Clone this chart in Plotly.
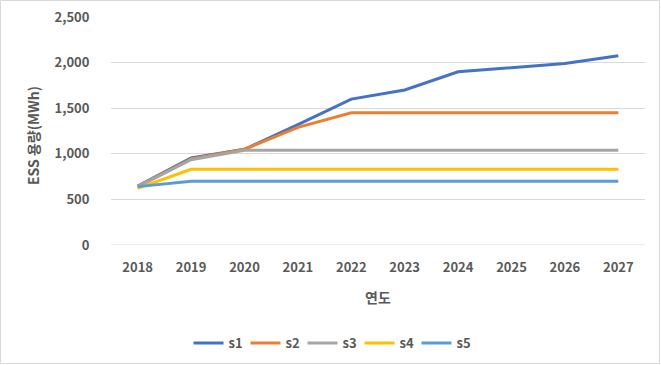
import plotly.graph_objects as go

years = ["2018", "2019", "2020", "2021", "2022", "2023", "2024", "2025", "2026", "2027"]
s1 = [645, 955, 1050, 1320, 1600, 1700, 1900, 1945, 1990, 2075]
s2 = [640, 945, 1050, 1290, 1450, 1450, 1450, 1450, 1450, 1450]
s3 = [640, 935, 1040, 1040, 1040, 1040, 1040, 1040, 1040, 1040]
s4 = [620, 830, 830, 830, 830, 830, 830, 830, 830, 830]
s5 = [640, 700, 700, 700, 700, 700, 700, 700, 700, 700]
series = {"s1": s1, "s2": s2, "s3": s3, "s4": s4, "s5": s5}
colors = {"s1": "#4472C4", "s2": "#ED7D31", "s3": "#A5A5A5", "s4": "#FFC000", "s5": "#5B9BD5"}
y_ticks = [0, 500, 1000, 1500, 2000, 2500]

font_family = "Noto Sans CJK KR, Noto Sans, sans-serif"
L, R, T, B = 111, 16, 17, 120
PW, PH = 661 - L - R, 365 - T - B

fig = go.Figure()
for name, vals in series.items():
    fig.add_trace(go.Scatter(x=years, y=vals, mode="lines", name=name,
                             line=dict(color=colors[name], width=3)))

fig.update_layout(
    width=661, height=365,
    margin=dict(l=L, r=R, t=T, b=B, autoexpand=False),
    paper_bgcolor="white", plot_bgcolor="white",
    font=dict(family=font_family, color="#595959", size=13),
    showlegend=True,
    legend=dict(orientation="h", x=(331 - L) / PW, xanchor="center", y=-(343 - 245) / PH, yanchor="middle",
                font=dict(size=13, color="#595959", weight="bold"),
                entrywidth=12, entrywidthmode="pixels",
                bgcolor="rgba(0,0,0,0)"),
    xaxis=dict(type="category", range=[-0.5, 9.5], showgrid=False, zeroline=False, showline=False,
               automargin=False,
               tickfont=dict(size=13, color="#595959", weight="bold"),
               ticks="outside", ticklen=10, tickcolor="rgba(0,0,0,0)"),
    yaxis=dict(range=[0, 2500], tickvals=y_ticks, tickformat=",d", automargin=False,
               showgrid=True, gridcolor="#D9D9D9", gridwidth=1, zeroline=False, showline=False,
               tickfont=dict(size=13, color="#595959", weight="bold"),
               ticks="outside", ticklen=18, tickcolor="rgba(0,0,0,0)"),
    annotations=[
        dict(text="ESS 용량(MWh)", xref="paper", yref="paper",
             x=-(L - 33) / PW, y=(245 - 136) / PH, xanchor="center", yanchor="middle",
             textangle=-90, showarrow=False, font=dict(size=14, color="#595959", weight="bold")),
        dict(text="연도", xref="paper", yref="paper",
             x=0.5, y=-(297 - 245) / PH, xanchor="center", yanchor="middle",
             showarrow=False, font=dict(size=14, color="#595959", weight="bold")),
    ],
)
fig.add_shape(type="line", xref="paper", yref="y", x0=0, x1=1, y0=0, y1=0,
              line=dict(color="#D9D9D9", width=1), layer="below")
fig.add_shape(type="rect", xref="paper", yref="paper",
              x0=-(L - 0.5) / PW, x1=1 + (R - 1.5) / PW,
              y0=-(B - 1.5) / PH, y1=1 + (T - 0.5) / PH,
              line=dict(color="#D9D9D9", width=1))
fig.write_html("out.html", config={"displayModeBar": False},
               post_script="document.body.style.margin='0';")
